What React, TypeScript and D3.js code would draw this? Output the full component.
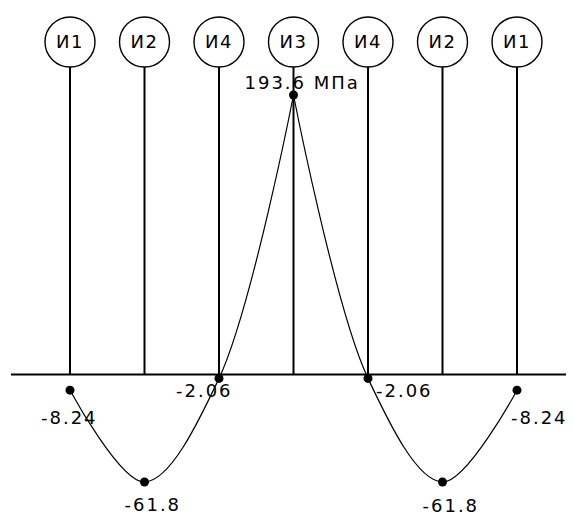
import React from 'react';
import * as d3 from 'd3';

// sections along the beam, left to right
const sections = ['И1', 'И2', 'И4', 'И3', 'И4', 'И2', 'И1'];
// stress at each section, MPa
const stress = [-8.24, -61.8, -2.06, 193.6, -2.06, -61.8, -8.24];
const stressLabels = ['-8.24', '-61.8', '-2.06', '193.6 МПа', '-2.06', '-61.8', '-8.24'];

// where each value label sits relative to its point (dx, dy)
const labelOffsets: [number, number][] = [
  [-29, 34], [-20, 29], [-43, 19], [-49, -6], [8, 19], [-20, 30], [-6, 34],
];

const width = 573;
const height = 516;
const ringR = 25;
const ringY = 42;
const font = '"DejaVu Sans", Verdana, sans-serif';

export default function App() {
  const x = d3.scaleLinear().domain([0, sections.length - 1]).range([70, 517]);
  const y = d3.scaleSymlog().constant(250).domain([d3.min(stress)!, d3.max(stress)!]).range([482, 95]);

  const pts: [number, number][] = stress.map((v, i) => [x(i), y(v)]);
  // split at the peak so the top stays sharp
  const peak = d3.maxIndex(stress);
  const line = d3.line().curve(d3.curveCatmullRom.alpha(0.5));
  const leftPath = line(pts.slice(0, peak + 1)) || '';
  const rightPath = line(pts.slice(peak)) || '';

  const y0 = y(0);

  return (
    <svg width={width} height={height} style={{ position: 'absolute', left: 0, top: 0, background: '#fff' }}>
      <line x1={x(0) - 59} x2={x(sections.length - 1) + 49} y1={y0} y2={y0} stroke="#000" strokeWidth={2} />
      {sections.map((s, i) => (
        <g key={'s' + i}>
          <line x1={x(i)} x2={x(i)} y1={ringY + ringR} y2={y0} stroke="#000" strokeWidth={2} />
          <circle cx={x(i)} cy={ringY} r={ringR} fill="#fff" stroke="#000" strokeWidth={1.4} />
          <text x={x(i)} y={ringY + 6} textAnchor="middle" fontFamily={font} fontSize={18}
            letterSpacing={1.5} fill="#000">{s}</text>
        </g>
      ))}
      <path d={leftPath} fill="none" stroke="#000" strokeWidth={1.2} />
      <path d={rightPath} fill="none" stroke="#000" strokeWidth={1.2} />
      {pts.map((p, i) => (
        <g key={'p' + i}>
          <circle cx={p[0]} cy={p[1]} r={4.5} fill="#000" />
          <text x={p[0] + labelOffsets[i][0]} y={p[1] + labelOffsets[i][1]} fontFamily={font}
            fontSize={18} letterSpacing={2} fill="#000">{stressLabels[i]}</text>
        </g>
      ))}
    </svg>
  );
}
